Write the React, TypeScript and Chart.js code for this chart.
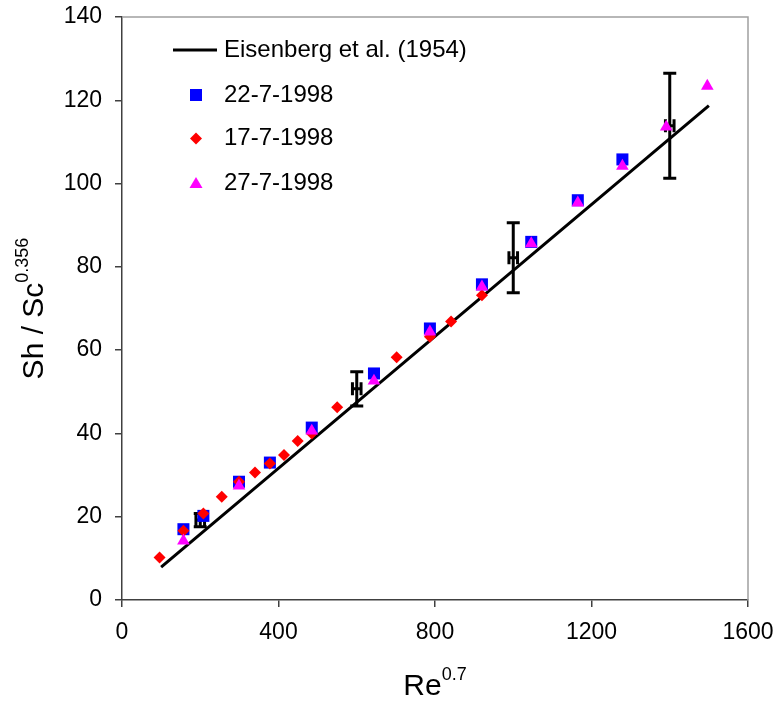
import React, { useEffect, useRef } from "react";
import { Chart, registerables } from "chart.js";

Chart.register(...registerables);

const FONT = "'Liberation Sans', Arial, sans-serif";

// ---- data ----
const eisenbergX = [100, 1500];
const eisenbergY = [7.9, 118.7];

const s22X = [157, 208, 299, 378, 485, 644, 787, 920, 1046, 1165, 1279];
const s22Y = [17.0, 20.2, 28.4, 33.0, 41.4, 54.4, 65.2, 75.8, 86.0, 96.0, 105.8];

const s17X = [96, 157, 208, 255, 299, 340, 378, 414, 449, 485, 550, 702, 787, 841, 920];
const s17Y = [10.2, 16.6, 20.8, 24.8, 28.4, 30.6, 32.8, 34.8, 38.2, 40.0, 46.3, 58.3, 63.2, 66.9, 73.2];

const s27X = [157, 299, 485, 644, 787, 920, 1046, 1165, 1279, 1391, 1496];
const s27Y = [14.2, 27.4, 40.6, 52.6, 64.4, 75.2, 85.6, 95.4, 104.2, 113.6, 123.4];

const errX = [200, 600, 1000, 1400];
const errY = [19.2, 50.7, 82.2, 113.9];
const errYLow = [17.6, 46.6, 73.8, 101.3];
const errYHigh = [20.8, 54.8, 90.6, 126.5];
const errXLow = [189, 589, 989, 1389];
const errXHigh = [211, 611, 1011, 1411];

const xTickValues = [0, 400, 800, 1200, 1600];
const yTickValues = [0, 20, 40, 60, 80, 100, 120, 140];

const xTitle = "Re";
const xTitleSup = "0.7";
const yTitle = "Sh / Sc";
const yTitleSup = "0.356";

const zip = (xs: number[], ys: number[]) => xs.map((x, i) => ({ x, y: ys[i] }));

const errorBarPlugin = {
  id: "errorBars",
  beforeDatasetsDraw(chart: any) {
    const { ctx, scales } = chart;
    const xs = scales.x;
    const ys = scales.y;
    ctx.save();
    ctx.strokeStyle = "#000";
    ctx.lineWidth = 3;
    ctx.lineCap = "butt";
    const cap = 6.5;
    for (let i = 0; i < errX.length; i++) {
      const px = xs.getPixelForValue(errX[i]);
      const py = ys.getPixelForValue(errY[i]);
      const pyl = ys.getPixelForValue(errYLow[i]);
      const pyh = ys.getPixelForValue(errYHigh[i]);
      const pxl = xs.getPixelForValue(errXLow[i]);
      const pxh = xs.getPixelForValue(errXHigh[i]);
      ctx.beginPath();
      ctx.moveTo(px, pyl);
      ctx.lineTo(px, pyh);
      ctx.moveTo(px - cap, pyl);
      ctx.lineTo(px + cap, pyl);
      ctx.moveTo(px - cap, pyh);
      ctx.lineTo(px + cap, pyh);
      ctx.moveTo(pxl, py);
      ctx.lineTo(pxh, py);
      ctx.moveTo(pxl, py - cap);
      ctx.lineTo(pxl, py + cap);
      ctx.moveTo(pxh, py - cap);
      ctx.lineTo(pxh, py + cap);
      ctx.stroke();
    }
    ctx.restore();
  },
};

const decorPlugin = {
  id: "decor",
  afterDraw(chart: any) {
    const { ctx, chartArea } = chart;
    const { left, right, top, bottom } = chartArea;
    ctx.save();
    ctx.strokeStyle = "#a0a0a0";
    ctx.lineWidth = 1.5;
    ctx.beginPath();
    ctx.moveTo(left, top);
    ctx.lineTo(right, top);
    ctx.lineTo(right, bottom);
    ctx.stroke();

    // legend
    const ds = chart.data.datasets;
    const lx = 173;
    const mx = 196;
    const tx = 224;
    const rows = [50, 95, 138.5, 183];
    ctx.fillStyle = "#000";
    ctx.font = `24px ${FONT}`;
    ctx.textBaseline = "middle";
    ctx.textAlign = "left";
    ctx.strokeStyle = "#000";
    ctx.lineWidth = 3;
    ctx.beginPath();
    ctx.moveTo(lx, rows[0]);
    ctx.lineTo(lx + 44, rows[0]);
    ctx.stroke();
    ctx.fillText(ds[0].label, tx, rows[0]);
    ctx.fillStyle = "#0000ff";
    ctx.fillRect(mx - 6, rows[1] - 6, 12, 12);
    ctx.fillStyle = "#000";
    ctx.fillText(ds[1].label, tx, rows[1]);
    ctx.fillStyle = "#ff0000";
    ctx.beginPath();
    ctx.moveTo(mx, rows[2] - 6);
    ctx.lineTo(mx + 6, rows[2]);
    ctx.lineTo(mx, rows[2] + 6);
    ctx.lineTo(mx - 6, rows[2]);
    ctx.closePath();
    ctx.fill();
    ctx.fillStyle = "#000";
    ctx.fillText(ds[2].label, tx, rows[2]);
    ctx.fillStyle = "#ff00ff";
    ctx.beginPath();
    ctx.moveTo(mx, rows[3] - 6);
    ctx.lineTo(mx + 6.5, rows[3] + 5);
    ctx.lineTo(mx - 6.5, rows[3] + 5);
    ctx.closePath();
    ctx.fill();
    ctx.fillStyle = "#000";
    ctx.fillText(ds[3].label, tx, rows[3]);

    // x title
    const big = `30px ${FONT}`;
    const small = `18px ${FONT}`;
    ctx.textBaseline = "alphabetic";
    ctx.font = big;
    const w1 = ctx.measureText(xTitle).width;
    ctx.font = small;
    const w2 = ctx.measureText(xTitleSup).width;
    const cx = (left + right) / 2;
    const sx = cx - (w1 + w2) / 2;
    ctx.font = big;
    ctx.fillText(xTitle, sx, 695);
    ctx.font = small;
    ctx.fillText(xTitleSup, sx + w1, 680);

    // y title
    ctx.save();
    ctx.translate(43, (top + bottom) / 2);
    ctx.rotate(-Math.PI / 2);
    ctx.font = big;
    const v1 = ctx.measureText(yTitle).width;
    ctx.font = small;
    const v2 = ctx.measureText(yTitleSup).width;
    const vs = -(v1 + v2) / 2;
    ctx.font = big;
    ctx.fillText(yTitle, vs, 0);
    ctx.font = small;
    ctx.fillText(yTitleSup, vs + v1, -15);
    ctx.restore();

    ctx.restore();
  },
};

export default function App() {
  const ref = useRef<HTMLCanvasElement | null>(null);

  useEffect(() => {
    if (!ref.current) return;
    const chart = new Chart(ref.current, {
      type: "scatter",
      data: {
        datasets: [
          {
            type: "line",
            label: "Eisenberg et al. (1954)",
            data: zip(eisenbergX, eisenbergY),
            borderColor: "#000",
            borderWidth: 3,
            pointRadius: 0,
            fill: false,
            order: 3,
          } as any,
          {
            label: "22-7-1998",
            data: zip(s22X, s22Y),
            pointStyle: "rect",
            pointRadius: 8.5,
            backgroundColor: "#0000ff",
            borderColor: "#0000ff",
            borderWidth: 0,
            order: 2,
          },
          {
            label: "17-7-1998",
            data: zip(s17X, s17Y),
            pointStyle: "rectRot",
            pointRadius: 6,
            backgroundColor: "#ff0000",
            borderColor: "#ff0000",
            borderWidth: 0,
            order: 1,
          },
          {
            label: "27-7-1998",
            data: zip(s27X, s27Y),
            pointStyle: "triangle",
            pointRadius: 7.3,
            backgroundColor: "#ff00ff",
            borderColor: "#ff00ff",
            borderWidth: 0,
            order: 0,
          },
        ],
      },
      options: {
        responsive: false,
        animation: false,
        devicePixelRatio: 1,
        layout: { padding: { top: 17, right: 33, left: 0, bottom: 0 } },
        plugins: {
          legend: { display: false },
          tooltip: { enabled: false },
        },
        scales: {
          x: {
            type: "linear",
            min: 0,
            max: 1600,
            afterBuildTicks: (scale: any) => {
              scale.ticks = xTickValues.map((v) => ({ value: v }));
            },
            afterFit: (scale: any) => {
              scale.height = 104;
              scale.paddingLeft = 0;
              scale.paddingRight = 0;
              scale.paddingTop = 0;
              scale.paddingBottom = 0;
            },
            ticks: {
              font: { size: 23, family: FONT },
              color: "#000",
              padding: 12,
              maxRotation: 0,
              callback: (v: any) => String(v),
            },
            grid: {
              display: true,
              drawOnChartArea: false,
              drawTicks: true,
              tickLength: 7,
              color: "#404040",
              lineWidth: 1.5,
            },
            border: { display: true, color: "#404040", width: 1.5 },
          },
          y: {
            type: "linear",
            min: 0,
            max: 140,
            afterBuildTicks: (scale: any) => {
              scale.ticks = yTickValues.map((v) => ({ value: v }));
            },
            afterFit: (scale: any) => {
              scale.width = 122;
              scale.paddingLeft = 0;
              scale.paddingRight = 0;
              scale.paddingTop = 0;
              scale.paddingBottom = 0;
            },
            ticks: {
              font: { size: 23, family: FONT },
              color: "#000",
              padding: 13,
              callback: (v: any) => String(v),
            },
            grid: {
              display: true,
              drawOnChartArea: false,
              drawTicks: true,
              tickLength: 7,
              color: "#404040",
              lineWidth: 1.5,
            },
            border: { display: true, color: "#404040", width: 1.5 },
          },
        },
      },
      plugins: [errorBarPlugin, decorPlugin],
    });
    return () => chart.destroy();
  }, []);

  return (
    <div
      style={{
        position: "absolute",
        left: 0,
        top: 0,
        width: 781,
        height: 704,
        background: "#fff",
      }}
    >
      <canvas ref={ref} width={781} height={704} style={{ width: 781, height: 704, display: "block" }} />
    </div>
  );
}
